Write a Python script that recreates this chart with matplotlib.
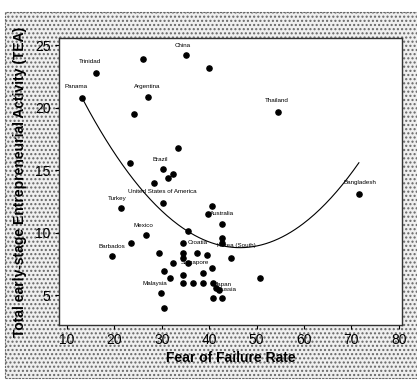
import numpy as np
import matplotlib
matplotlib.use('Agg')
import matplotlib.pyplot as plt
from matplotlib.patches import Rectangle

plt.rcParams['font.family'] = ['Liberation Sans Narrow', 'Liberation Sans', 'DejaVu Sans']
plt.rcParams['hatch.color'] = '#b4b4b4'  # 网点颜色

# 数据
fear_rate = [13.2, 16.1, 26.0, 35.1, 40.0, 27.1, 24.1, 54.5, 33.4, 23.3,
             30.3, 32.4, 31.3, 28.4, 30.3, 21.4, 71.6, 40.6, 39.7, 42.7,
             26.7, 23.5, 19.5, 35.5, 42.7, 42.7, 34.5, 29.4, 34.5, 34.5,
             37.4, 39.5, 44.6, 32.4, 35.5, 40.6, 38.7, 30.5, 31.7, 34.5,
             34.5, 36.6, 38.7, 40.8, 41.4, 42.1, 40.8, 42.7, 29.8, 30.5,
             50.7]
tea = [20.8, 22.8, 23.9, 24.2, 23.2, 20.9, 19.5, 19.7, 16.8, 15.6,
       15.1, 14.7, 14.4, 14.0, 12.4, 12.0, 13.1, 12.1, 11.5, 10.7,
       9.8, 9.2, 8.1, 10.1, 9.6, 9.2, 9.2, 8.4, 8.4, 8.0,
       8.4, 8.2, 8.0, 7.6, 7.6, 7.2, 6.8, 6.9, 6.4, 6.6,
       6.0, 6.0, 6.0, 6.0, 5.6, 5.4, 4.8, 4.8, 5.2, 4.0,
       6.4]
# 标注的国家: 点序号 -> 名称
country_idx = [0, 1, 3, 5, 7, 10, 14, 15, 16, 18, 20, 22, 26, 25, 33, 44, 45, 48]
country_names = ['Panama', 'Trinidad', 'China', 'Argentina', 'Thailand', 'Brazil',
                 'United States of America', 'Turkey', 'Bangladesh', 'Australia',
                 'Mexico', 'Barbados', 'Croatia', 'Korea (South)', 'Singapore',
                 'Japan', 'Russia', 'Malaysia']
# 二次拟合曲线系数 (a, b, c) 及范围
fit_coef = [0.0108, -1.0044, 32.15]
fit_range = [13.2, 71.6]

# 标签偏移（像素）
label_offsets = {
    'Panama': (-6, 11), 'Trinidad': (-6, 11), 'China': (-3, 10), 'Argentina': (-1, 10),
    'Thailand': (-1, 11), 'Brazil': (-3, 10), 'United States of America': (-1, 11),
    'Turkey': (-4, 9), 'Bangladesh': (1, 11), 'Australia': (14, 0), 'Mexico': (-3, 10),
    'Barbados': (0, 10), 'Croatia': (15, 0), 'Korea (South)': (14, -3),
    'Singapore': (22, 0), 'Japan': (8, 3), 'Russia': (8, 1), 'Malaysia': (-6, 9),
}

fig = plt.figure(figsize=(4.17, 3.81), dpi=100)
fig.patch.set_facecolor('white')

# 灰色网点背景
bg = Rectangle((5 / 417, 3 / 381), 1.0, 366 / 381, transform=fig.transFigure,
               facecolor='#efefef', edgecolor='#666666', hatch='....',
               linewidth=0.8, linestyle=(0, (2, 1)), zorder=-10)
fig.patches.append(bg)

ax = fig.add_axes([59 / 417, 56 / 381, 343 / 417, 287 / 381])
ax.set_facecolor('white')

ax.scatter(fear_rate, tea, s=14, color='black', zorder=3)

xs = np.linspace(fit_range[0], fit_range[1], 200)
ax.plot(xs, np.polyval(fit_coef, xs), color='black', linewidth=0.8)

for i, name in zip(country_idx, country_names):
    dx, dy = label_offsets[name]
    ax.annotate(name, (fear_rate[i], tea[i]), xytext=(dx, dy), textcoords='offset pixels',
                ha='center', va='center', fontsize=4.5)

ax.set_xlim(8.3, 80.7)
ax.set_ylim(2.6, 25.6)
ax.set_xticks([10, 20, 30, 40, 50, 60, 70, 80])
ax.set_yticks([5, 10, 15, 20, 25])
ax.tick_params(labelsize=10, length=3, width=0.8, direction='out', pad=3)
for sp in ax.spines.values():
    sp.set_linewidth(1.0)
    sp.set_color('#333333')

ax.set_xlabel('Fear of Failure Rate', fontsize=10, fontweight='bold', labelpad=3)
ax.set_ylabel('Total early-stage Entrepreneurial Activity (TEA)', fontsize=10,
              fontweight='bold', labelpad=6)

plt.savefig('out.png', dpi=100)
plt.close()
